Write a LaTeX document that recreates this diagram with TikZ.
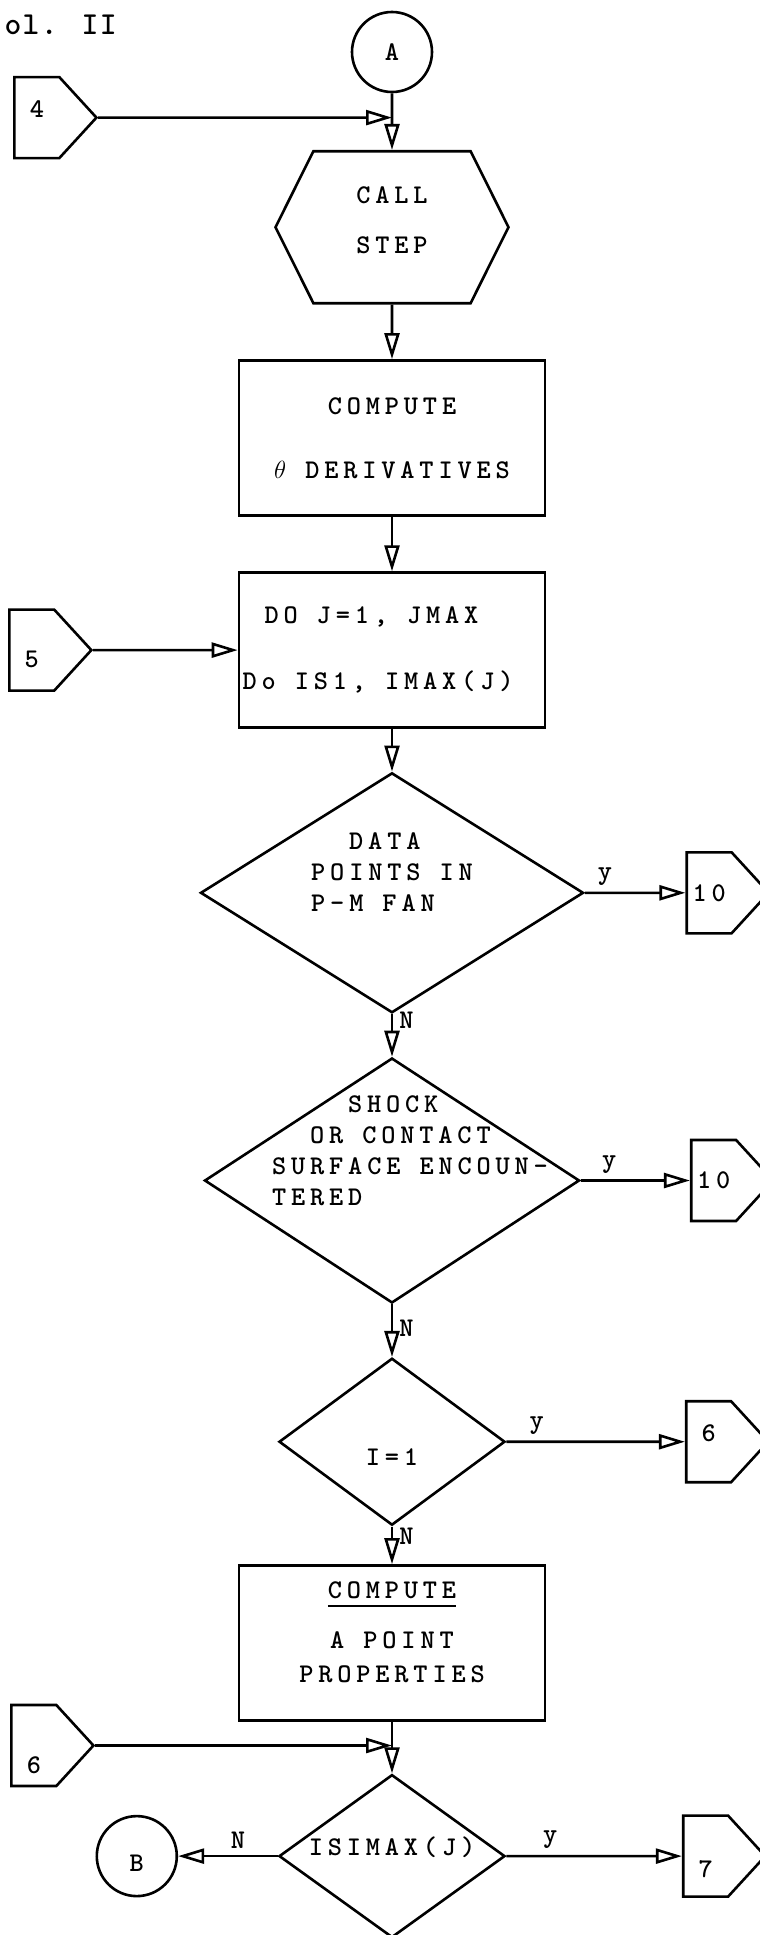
\documentclass[tikz,border=0pt]{standalone}
\usepackage{fontspec}
\newfontfamily\tw{lmmonolt10-bold.otf}[LetterSpace=18]
\newfontfamily\twh{lmmonolt10-bold.otf}[LetterSpace=4]
\usetikzlibrary{arrows.meta,positioning,shapes.geometric,shapes.symbols}
\newcommand{\ulword}[1]{\setbox0\hbox{#1}\rlap{\rule[-8pt]{\wd0}{2pt}}\box0}

\begin{document}
\begin{tikzpicture}[x=1pt, y=-1pt, line width=2.6pt, font=\tw\fontsize{27}{31}\selectfont,
  box/.style={draw,inner sep=0pt,minimum width=306pt,minimum height=155pt,align=center},
  dec/.style={draw,diamond,inner sep=0pt,align=left},
  term/.style={draw,circle,inner sep=0pt,minimum size=80pt},
  hex/.style={draw,signal,signal to=west and east,signal pointer angle=127,inner sep=0pt,minimum width=233pt,minimum height=152pt,align=center},
  off/.style={draw,signal,signal to=east,signal pointer angle=95,inner sep=0pt,minimum width=82pt,minimum height=81pt},
  lab/.style={inner sep=6pt},
  >={Triangle[open,length=26pt,width=15pt]}]
\useasboundingbox (0,0) rectangle (760,1935);
\node[anchor=base west,font=\twh\fontsize{32}{32}\selectfont] (T) at (0,35) {ol. II};
\node[term] (A) at (392,52) {A};
\node[hex,below=56.6pt of A] (CS) {CALL\\[19pt]STEP\\[-16pt]\mbox{}};
\node[box,below=54.6pt of CS] (CD) {COMPUTE\\[33pt]$\theta$ DERIVATIVES};
\node[box,align=left,below=54.6pt of CD] (DO) {\hspace*{22pt}DO J=1, JMAX\\[35pt]Do IS1, IMAX(J)\hspace*{28pt}};
\node[dec,aspect=1.6,minimum width=383pt,minimum height=240pt,inner xsep=-20pt,below=42.6pt of DO] (D1) {\hspace*{38pt}DATA\\POINTS IN\\P-M FAN\\[11pt]\mbox{}};
\node[dec,aspect=1.53,minimum width=375pt,minimum height=245pt,inner xsep=-110pt,below=42.6pt of D1] (D2) {\hspace*{112pt}SHOCK\\\hspace*{74pt}OR CONTACT\\\hspace*{36pt}SURFACE ENCOUN-\\\hspace*{36pt}TERED\\[28pt]\mbox{}};
\node[dec,aspect=1.35,minimum width=226pt,minimum height=167pt,below=52.6pt of D2] (D3) {\mbox{}\\[17pt]I=1};
\node[box,below=37.6pt of D3] (CP) {\ulword{COMPUTE}\\[19pt]A POINT\\[3pt]PROPERTIES\\[-10pt]\mbox{}};
\node[dec,aspect=1.39,minimum width=226pt,minimum height=163pt,below=51.6pt of CP] (D4) {ISIMAX(J)\\[-11pt]\mbox{}};
\coordinate[below=24.3pt of A] (J1);
\coordinate[below=23.8pt of CP] (J2);
\node[off,text depth=18pt,left=293.8pt of J1] (C4) {4};
\node[off,text height=34.5pt,left=144.6pt of DO] (C5) {5};
\node[off,right=100.6pt of D1] (C10A) {10};
\node[off,right=109.1pt of D2] (C10B) {10};
\node[off,text depth=18pt,right=178.6pt of D3] (C6A) {6};
\node[off,text height=56.5pt,left=296.8pt of J2] (C6B) {6};
\node[off,text height=42.5pt,right=175.6pt of D4] (C7) {7};
\node[term,text height=30pt,left=99.6pt of D4] (B) {B};
\draw[->] (A) -- (CS);
\draw[->] (C4) -- (J1);
\draw[->] (CS) -- (CD);
\draw[->] (CD) -- (DO);
\draw[->] (C5) -- (DO);
\draw[->] (DO) -- (D1);
\draw[->] (D1) -- node[above,lab,pos=0.2]{y} (C10A);
\draw[->] (D1) -- node[right,lab,pos=0.15]{N} (D2);
\draw[->] (D2) -- node[above,lab,pos=0.26]{y} (C10B);
\draw[->] (D2) -- node[right,lab,pos=0.45]{N} (D3);
\draw[->] (D3) -- node[above,lab,pos=0.17]{y} (C6A);
\draw[->] (D3) -- node[right,lab,pos=0.25]{N} (CP);
\draw[->] (CP) -- (D4);
\draw[->] (C6B) -- (J2);
\draw[->] (D4) -- node[above,lab,pos=0.25]{y} (C7);
\draw[->] (D4) -- node[above,lab,pos=0.4]{N} (B);
\end{tikzpicture}
\end{document}
